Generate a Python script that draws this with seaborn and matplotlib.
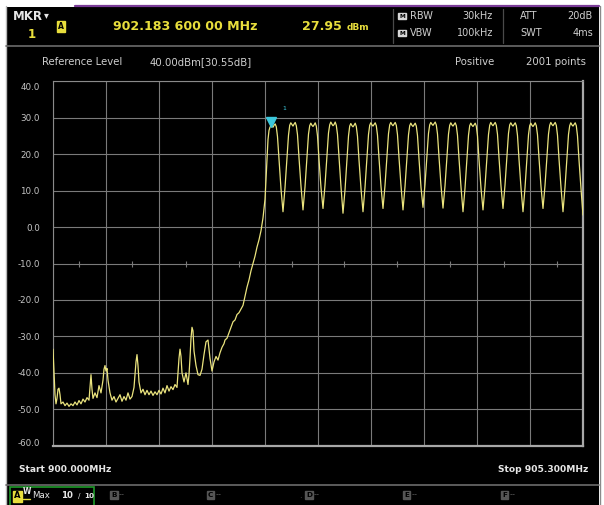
import matplotlib
matplotlib.use("Agg")
import matplotlib.pyplot as plt
import matplotlib.transforms as mtransforms
from matplotlib.patches import Rectangle
from matplotlib.lines import Line2D
import numpy as np
import pandas as pd
import seaborn as sns

# ---------------------------------------------------------------- data
START_MHZ = 900.0
STOP_MHZ = 905.3
REF_LEVEL_DBM = 40.0
BOTTOM_DBM = -60.0
Y_TICKS = [40, 30, 20, 10, 0, -10, -20, -30, -40, -50, -60]

MARKER_MHZ = 902.1836
MARKER_DBM = 27.95

# noise floor and rising edge below the hopping band
floor_mhz = [
    900.00, 900.01, 900.02, 900.03, 900.04, 900.05, 900.06, 900.07, 900.08, 900.10,
    900.12, 900.14, 900.16, 900.18, 900.20, 900.22, 900.24, 900.26, 900.28, 900.30,
    900.32, 900.34, 900.36, 900.37, 900.38, 900.39, 900.40, 900.42, 900.44, 900.46,
    900.48, 900.50, 900.51, 900.52, 900.53, 900.54, 900.55, 900.57, 900.59, 900.61,
    900.63, 900.65, 900.67, 900.69, 900.71, 900.73, 900.75, 900.77, 900.79, 900.81,
    900.83, 900.84, 900.85, 900.86, 900.88, 900.90, 900.92, 900.94, 900.96, 900.98,
    901.00, 901.02, 901.04, 901.06, 901.08, 901.10, 901.12, 901.14, 901.16, 901.18,
    901.20, 901.22, 901.24, 901.25, 901.26, 901.27, 901.28, 901.29, 901.31, 901.33,
    901.35, 901.36, 901.37, 901.38, 901.39, 901.40, 901.41, 901.43, 901.45, 901.47,
    901.49, 901.51, 901.53, 901.55, 901.57, 901.59, 901.61, 901.63, 901.65, 901.67,
    901.69, 901.71, 901.72, 901.74, 901.76, 901.78, 901.80, 901.82, 901.84, 901.86,
    901.88, 901.90, 901.92, 901.94, 901.96, 901.98, 902.00, 902.02, 902.04, 902.06,
    902.08, 902.10, 902.11, 902.12, 902.13, 902.14, 902.15, 902.16, 902.17,
]
floor_dbm = [
    -33.5, -40.0, -46.0, -48.5, -47.0, -44.5, -44.2, -46.0, -48.5, -48.0,
    -49.0, -48.3, -49.2, -48.5, -49.0, -48.0, -48.8, -47.6, -48.5, -47.2,
    -48.0, -46.8, -47.5, -44.0, -40.5, -44.5, -47.0, -45.5, -46.8, -43.5,
    -45.5, -42.0, -39.0, -38.0, -39.5, -38.8, -42.0, -45.5, -47.5, -46.5,
    -48.0, -47.0, -46.0, -47.8, -46.5, -47.5, -45.5, -47.2, -46.5, -44.0,
    -37.0, -35.0, -38.0, -42.5, -45.5, -44.5, -46.0, -44.8, -46.0, -45.0,
    -46.2, -45.2, -46.0, -44.8, -45.8, -44.2, -45.5, -43.5, -45.0, -43.8,
    -44.6, -43.2, -44.0, -40.0, -36.0, -33.5, -35.5, -40.0, -42.5, -40.0,
    -43.2, -40.5, -36.0, -30.5, -27.5, -28.5, -34.0, -38.0, -40.5, -40.7,
    -39.0, -35.0, -31.5, -31.0, -36.0, -39.5, -37.0, -35.5, -36.5, -34.5,
    -33.0, -32.0, -31.0, -30.5, -29.0, -27.5, -26.0, -25.5, -24.0, -23.5,
    -22.5, -21.5, -19.0, -16.5, -14.5, -12.0, -10.0, -8.0, -5.5, -3.5,
    -1.0, 2.5, 5.0, 7.6, 13.0, 19.0, 24.0, 26.5, 27.4,
]

# hopping channels: centre frequencies and levels at fixed offsets around each centre
hop_centers_mhz = [902.2, 902.4, 902.6, 902.8, 903.0, 903.2, 903.4, 903.6,
                   903.8, 904.0, 904.2, 904.4, 904.6, 904.8, 905.0, 905.2]
hop_offsets_khz = [-100, -80, -60, -45, -33, -22, -10, 0, 10, 22, 33, 45, 60, 80]
hop_dbm = [
    [None, None, None, None, None, None, 27.6, 27.4, 27.9, 28.3, 27.5, 24.8, 18.5, 10.5],
    [4.2, 10.8, 18.8, 25.2, 27.9, 28.6, 28.1, 27.7, 28.2, 28.7, 27.8, 25.3, 19.0, 11.2],
    [4.7, 11.0, 19.2, 25.5, 27.8, 28.5, 27.9, 27.6, 28.0, 28.6, 27.7, 25.0, 18.6, 10.8],
    [5.1, 11.5, 19.5, 25.8, 28.0, 28.8, 28.2, 27.8, 28.1, 28.8, 27.9, 25.4, 19.1, 11.0],
    [3.8, 10.2, 18.6, 25.0, 27.7, 28.4, 27.8, 27.5, 27.9, 28.5, 27.6, 24.9, 18.4, 10.6],
    [4.2, 10.9, 19.0, 25.4, 27.9, 28.6, 28.0, 27.7, 28.1, 28.6, 27.8, 25.2, 18.9, 11.1],
    [5.1, 11.4, 19.4, 25.6, 28.0, 28.7, 28.1, 27.8, 28.2, 28.7, 27.9, 25.3, 19.0, 11.3],
    [4.7, 11.1, 19.1, 25.3, 27.8, 28.5, 27.9, 27.6, 28.0, 28.5, 27.7, 25.1, 18.7, 10.9],
    [5.4, 11.7, 19.6, 25.7, 28.0, 28.7, 28.2, 27.9, 28.3, 28.8, 28.0, 25.5, 19.2, 11.4],
    [5.2, 11.3, 19.3, 25.5, 27.9, 28.6, 28.0, 27.7, 28.1, 28.6, 27.8, 25.2, 18.8, 11.0],
    [4.2, 10.7, 18.9, 25.2, 27.8, 28.5, 27.9, 27.6, 28.0, 28.5, 27.7, 25.0, 18.5, 10.7],
    [4.7, 11.2, 19.2, 25.4, 27.9, 28.7, 28.1, 27.8, 28.2, 28.7, 27.9, 25.4, 19.0, 11.2],
    [5.1, 11.5, 19.5, 25.7, 28.0, 28.6, 28.0, 27.7, 28.1, 28.6, 27.8, 25.1, 18.6, 10.8],
    [4.2, 10.8, 18.9, 25.3, 27.8, 28.5, 27.9, 27.6, 28.0, 28.6, 27.8, 25.3, 18.9, 11.1],
    [5.1, 11.4, 19.3, 25.5, 27.9, 28.7, 28.1, 27.8, 28.2, 28.7, 27.9, 25.2, 18.7, 10.9],
    [4.2, 10.9, 19.0, 25.4, 27.8, 28.6, 28.0, 27.7, 28.1, 28.6, 27.8, 25.0, 18.4, 10.5],
]
end_mhz = 905.3
end_dbm = 3.3

# ---------------------------------------------------------------- trace table
freqs = list(floor_mhz) + [MARKER_MHZ]
levels = list(floor_dbm) + [MARKER_DBM]
for centre, row in zip(hop_centers_mhz, hop_dbm):
    for off, lv in zip(hop_offsets_khz, row):
        if lv is None:
            continue
        freqs.append(round(centre + off / 1000.0, 4))
        levels.append(lv)
freqs.append(end_mhz)
levels.append(end_dbm)
trace = pd.DataFrame({"freq_mhz": freqs, "level_dbm": levels})

# ---------------------------------------------------------------- figure
W, H = 604, 505
sns.set_theme(style="dark")
plt.rcParams["font.family"] = ["DejaVu Sans"]

fig = plt.figure(figsize=(W / 100, H / 100), dpi=100, facecolor="white")


def fxy(x, y):
    return x / W, 1 - y / H


def ftext(x, y, s, **kw):
    fx, fy = fxy(x, y)
    kw.setdefault("va", "center")
    return fig.text(fx, fy, s, **kw)


def fline(x0, y0, x1, y1, **kw):
    a = fxy(x0, y0)
    b = fxy(x1, y1)
    fig.add_artist(Line2D([a[0], b[0]], [a[1], b[1]], transform=fig.transFigure, **kw))


def frect(x0, y0, x1, y1, **kw):
    fx0, fy1 = fxy(x0, y1)
    fig.add_artist(Rectangle((fx0, fy1), (x1 - x0) / W, (y1 - y0) / H,
                             transform=fig.transFigure, **kw))


# instrument screen
frect(6, 7, 599, 505, facecolor="black", edgecolor="none", zorder=-2)
fline(5.5, 6, 5.5, 505, color="#b8b8b8", lw=1.0)
fline(75, 6, 599, 6, color="#7b3c98", lw=1.6)
fline(599.5, 6, 599.5, 505, color="#8a8a8a", lw=1.0)
fline(6, 45.5, 599, 45.5, color="#6c6c6c", lw=1.2)
fline(6, 485, 599, 485, color="#6c6c6c", lw=1.2)
fline(393, 9, 393, 43, color="#4a4a4a", lw=0.9)
fline(503, 9, 503, 43, color="#4a4a4a", lw=0.9)

YEL = "#e8de3c"
WHITE = "#e6e6e6"
GREY = "#cfcfcf"

# header
ftext(13, 16, "MKR", color=WHITE, fontsize=8.5, fontweight="bold")
ftext(44, 15.5, "\u25BE", color=WHITE, fontsize=7)
ftext(28, 34, "1", color=YEL, fontsize=8.5, fontweight="bold")
ftext(58, 26.5, "A", color="black", fontsize=5.5, fontweight="bold",
      bbox=dict(boxstyle="square,pad=0.15", facecolor=YEL, edgecolor=YEL))
ftext(113, 26, "902.183 600 00 MHz", color=YEL, fontsize=9.1, fontweight="bold")
ftext(302, 26, "27.95", color=YEL, fontsize=9.1, fontweight="bold")
ftext(347, 27.5, "dBm", color=YEL, fontsize=6.5, fontweight="bold")

for yy, name, val in [(16, "RBW", "30kHz"), (33, "VBW", "100kHz")]:
    ftext(399, yy, "M", color="black", fontsize=4.2, fontweight="bold",
          bbox=dict(boxstyle="square,pad=0.15", facecolor="#d8d8d8", edgecolor="#d8d8d8"))
    ftext(410, yy, name, color=GREY, fontsize=7)
    ftext(493, yy, val, color=GREY, fontsize=7, ha="right")
for yy, name, val in [(16, "ATT", "20dB"), (33, "SWT", "4ms")]:
    ftext(520, yy, name, color=GREY, fontsize=7)
    ftext(593, yy, val, color=GREY, fontsize=7, ha="right")

ftext(42, 62, "Reference Level", color=GREY, fontsize=7.3)
ftext(150, 62, "40.00dBm[30.55dB]", color=GREY, fontsize=7.3)
ftext(455, 62, "Positive", color=GREY, fontsize=7.3)
ftext(586, 62, "2001 points", color=GREY, fontsize=7.3, ha="right")

ftext(19, 469, "Start 900.000MHz", color=WHITE, fontsize=6.6, fontweight="bold")
ftext(588, 469, "Stop 905.300MHz", color=WHITE, fontsize=6.6, fontweight="bold", ha="right")

# trace status bar
frect(10, 487, 94, 506, facecolor="none", edgecolor="#1f9a2a", lw=1.2)
ftext(14, 496, "A", color="black", fontsize=6, fontweight="bold",
      bbox=dict(boxstyle="square,pad=0.12", facecolor=YEL, edgecolor=YEL))
ftext(23, 492, "W", color=WHITE, fontsize=5.5, fontweight="bold")
fline(23, 499, 30, 499, color=YEL, lw=1.0)
ftext(32, 495, "Max", color=WHITE, fontsize=6.2)
ftext(61, 495, "10", color=WHITE, fontsize=6.2, fontweight="bold")
ftext(78, 496, "/", color=WHITE, fontsize=5.2)
ftext(84, 496.5, "10", color=WHITE, fontsize=5.2, fontweight="bold")
DIM = "#555555"
for xx, letter in [(111, "B"), (208, "C"), (306, "D"), (404, "E"), (502, "F")]:
    ftext(xx, 495, letter, color="black", fontsize=5.2, fontweight="bold",
          bbox=dict(boxstyle="square,pad=0.15", facecolor=DIM, edgecolor=DIM))
    ftext(xx + 8, 495, "--", color=DIM, fontsize=6)
ftext(299, 495, ".", color=DIM, fontsize=6)

# ---------------------------------------------------------------- plot area
top_px, bot_px = 81.25, 445.75
ax = fig.add_axes([53 / W, 1 - bot_px / H, 530 / W, (bot_px - top_px) / H])
ax.set_facecolor("black")

sns.lineplot(data=trace, x="freq_mhz", y="level_dbm", ax=ax, estimator=None,
             sort=False, color="#ebe47e", lw=0.9, zorder=3)

ax.set_xlim(START_MHZ, STOP_MHZ)
ax.set_ylim(BOTTOM_DBM, REF_LEVEL_DBM)
ax.set_xticks(np.linspace(START_MHZ, STOP_MHZ, 11))
ax.set_yticks(Y_TICKS)
ax.set_yticklabels([f"{v:.1f}" for v in Y_TICKS])
ax.set_xticklabels([])
ax.set_xlabel("")
ax.set_ylabel("")
ax.grid(True, color="#7a7a7a", lw=0.8)
ax.tick_params(axis="both", length=0)
ax.tick_params(axis="y", pad=9.5, labelsize=6.3, labelcolor="#c4c4c4")
for side in ("left", "top"):
    ax.spines[side].set_color("#8a8a8a")
    ax.spines[side].set_linewidth(0.8)
for side in ("bottom", "right"):
    ax.spines[side].set_color("#a8a8a8")
    ax.spines[side].set_linewidth(1.6)

# graduations on the horizontal centre line
mid_y = (BOTTOM_DBM + REF_LEVEL_DBM) / 2
half_x = np.linspace(START_MHZ, STOP_MHZ, 21)[1::2]
ax.plot(half_x, [mid_y] * len(half_x), ls="none", marker="|", ms=4, color="#7a7a7a", mew=0.8)

# keep the top and bottom scale labels inside the graticule
ticks = ax.yaxis.get_major_ticks()
for t in ticks:
    if t.get_loc() == REF_LEVEL_DBM:
        t.label1.set_transform(t.label1.get_transform()
                               + mtransforms.ScaledTranslation(0, -0.055, fig.dpi_scale_trans))
    if t.get_loc() == BOTTOM_DBM:
        t.label1.set_transform(t.label1.get_transform()
                               + mtransforms.ScaledTranslation(0, 0.03, fig.dpi_scale_trans))

# marker 1
tip = mtransforms.offset_copy(ax.transData, fig=fig, x=0, y=3, units="dots")
ax.plot([MARKER_MHZ], [MARKER_DBM], marker="v", ms=6.5, color="#3cc8dc",
        mec="#3cc8dc", transform=tip, zorder=5)
ax.annotate("1", (MARKER_MHZ, MARKER_DBM), xytext=(8, 11), textcoords="offset points",
            color="#3cc8dc", fontsize=4.5, zorder=5)

fig.savefig("out.png", dpi=100, facecolor="white")
